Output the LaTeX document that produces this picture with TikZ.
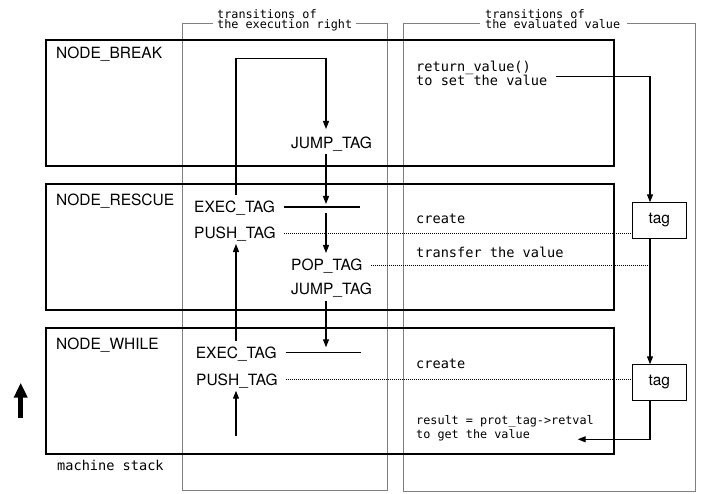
\documentclass[tikz,border=0pt]{standalone}
\usepackage{fontspec}
\setmainfont{TeX Gyre Heros}
\newfontfamily\monof{DejaVu Sans Mono}
\usetikzlibrary{arrows.meta}
\begin{document}
\begin{tikzpicture}[x=1pt,y=-1pt,
  sans/.style={font=\fontsize{15.5}{18}\selectfont, inner sep=0pt, anchor=base west},
  monolbl/.style={font=\monof\fontsize{13.6}{16}\selectfont, inner sep=0pt, anchor=base west},
  monosm/.style={font=\monof\fontsize{11.8}{14}\selectfont, inner sep=0pt, anchor=base west},
  frame/.style={line width=2.4pt},
  column/.style={draw=gray, line width=0.9pt},
  conn/.style={line width=1.2pt},
  arr/.style={conn, -{Triangle[length=8pt,width=6pt]}},
  dots/.style={line width=0.9pt, dash pattern=on 1pt off 1pt},
  tagbox/.style={draw, line width=1.2pt, minimum width=54pt, minimum height=36pt, inner sep=0pt, font=\fontsize{15.5}{18}\selectfont},
  bigarr/.style={line width=5pt, -{Triangle[length=15pt,width=13pt]}}
]
\useasboundingbox (0,0) rectangle (706,494);

% gray columns
\draw[column] (213,23) -- (182,23) -- (182,490) -- (387,490) -- (387,23) -- (356,23);
\draw[column] (480,23) -- (403,23) -- (403,491) -- (695,491) -- (695,23) -- (627,23);
\node[monosm] (h1a) at (217,18.3) {transitions of};
\node[monosm] (h1b) at (217,29) {the execution right};
\node[monosm] (h2a) at (485,18.3) {transitions of};
\node[monosm] (h2b) at (485,29) {the evaluated value};

% frames
\draw[frame] (46,40) rectangle (614,166);
\draw[frame] (46,184) rectangle (614,310);
\draw[frame] (46,328) rectangle (614,454);

% sans labels
\node[sans] (nbreak) at (56,59) {NODE\_BREAK};
\node[sans] (jump1) at (291,149) {JUMP\_TAG};
\node[sans] (nrescue) at (56,206) {NODE\_RESCUE};
\node[sans] (exec1) at (194,212.7) {EXEC\_TAG};
\node[sans] (push1) at (194,239) {PUSH\_TAG};
\node[sans] (pop1) at (291,270) {POP\_TAG};
\node[sans] (jump2) at (291,294.3) {JUMP\_TAG};
\node[sans] (nwhile) at (56,349) {NODE\_WHILE};
\node[sans] (exec2) at (195.7,358.3) {EXEC\_TAG};
\node[sans] (push2) at (196,385.7) {PUSH\_TAG};

% mono labels
\node[monolbl] (rv1) at (416,72) {return\_value()};
\node[monolbl] (rv2) at (416,86) {to set the value};
\node[monolbl] (cr1) at (416,224) {create};
\node[monolbl] (tr1) at (416,257.3) {transfer the value};
\node[monolbl] (cr2) at (416,368.7) {create};
\node[monosm] (res1) at (416,424) {result = prot\_tag->retval};
\node[monosm] (res2) at (416,438.3) {to get the value};
\node[monolbl] (ms) at (57,470.7) {machine stack};

% tag boxes
\node[tagbox] (tag1) at (659.3,220.3) {tag};
\node[tagbox] (tag2) at (659.3,382.3) {tag};

% coordinates
\coordinate (a0) at (236,195);
\coordinate (a1) at (236,58.7);
\coordinate (a2) at (326,58.7);
\coordinate (a3) at (326,129);
\coordinate (b0) at (326,154);
\coordinate (b1) at (326,204);
\coordinate (e1l) at (284,207);
\coordinate (e1r) at (360,207);
\coordinate (c0) at (326,212.7);
\coordinate (c1) at (326,253);
\coordinate (d0) at (326,300.7);
\coordinate (d1) at (326,347.3);
\coordinate (e2l) at (285.7,352.3);
\coordinate (e2r) at (361,352.3);
\coordinate (u0) at (236,436);
\coordinate (u1) at (236,390.7);
\coordinate (v0) at (236,340.7);
\coordinate (v1) at (236,244);
\coordinate (p1) at (284,233.3);
\coordinate (p1e) at (tag1.west |- p1);
\coordinate (q0) at (370.7,265);
\coordinate (q1) at (650.7,265);
\coordinate (p2) at (285.7,379.3);
\coordinate (p2e) at (tag2.west |- p2);
\coordinate (s0) at (556,76.3);
\coordinate (s1) at (650,76.3);
\coordinate (s2) at (650,202.3);
\coordinate (t0) at (650,238.3);
\coordinate (t1) at (650,364.3);
\coordinate (w0) at (650,400.3);
\coordinate (w1) at (650,439.3);
\coordinate (w2) at (577.7,439.3);
\coordinate (k0) at (20.7,418.3);
\coordinate (k1) at (20.7,382.7);

% execution-right connectors
\draw[arr] (a0) -- (a1) -- (a2) -- (a3);
\draw[arr] (b0) -- (b1);
\draw[conn] (e1l) -- (e1r);
\draw[arr] (c0) -- (c1);
\draw[arr] (d0) -- (d1);
\draw[conn] (e2l) -- (e2r);
\draw[arr] (u0) -- (u1);
\draw[arr] (v0) -- (v1);

% dotted
\draw[dots] (p1) -- (p1e);
\draw[dots] (q0) -- (q1);
\draw[dots] (p2) -- (p2e);

% value connectors
\draw[arr] (s0) -- (s1) -- (s2);
\draw[arr] (t0) -- (t1);
\draw[arr] (w0) -- (w1) -- (w2);

% big arrow
\draw[bigarr] (k0) -- (k1);
\end{tikzpicture}
\end{document}
